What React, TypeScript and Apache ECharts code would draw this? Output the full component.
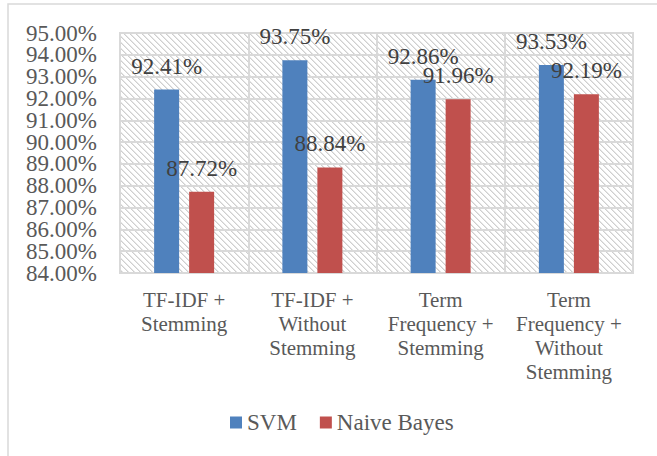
import React, { useEffect, useRef } from "react";
import * as echarts from "echarts";

const categories = [
  "TF-IDF +\nStemming",
  "TF-IDF +\nWithout\nStemming",
  "Term\nFrequency +\nStemming",
  "Term\nFrequency +\nWithout\nStemming",
];
const svmValues = [92.41, 93.75, 92.86, 93.53];
const nbValues = [87.72, 88.84, 91.96, 92.19];
const seriesNames = ["SVM", "Naive Bayes"];
const yMin = 84;
const yMax = 95;
const yTickLabels = [
  "84.00%",
  "85.00%",
  "86.00%",
  "87.00%",
  "88.00%",
  "89.00%",
  "90.00%",
  "91.00%",
  "92.00%",
  "93.00%",
  "94.00%",
  "95.00%",
];

const FONT = "Liberation Serif";

function makeHatch(): string {
  const c = document.createElement("canvas");
  const n = 6;
  c.width = n;
  c.height = n;
  const ctx = c.getContext("2d")!;
  ctx.fillStyle = "#ffffff";
  ctx.fillRect(0, 0, n, n);
  for (let i = 0; i < n; i++) {
    ctx.fillStyle = "#cfcfcf";
    ctx.fillRect(i, i, 1, 1);
    ctx.fillStyle = "#e6e6e6";
    ctx.fillRect((i + 1) % n, i, 1, 1);
  }
  return c.toDataURL();
}

export default function App() {
  const ref = useRef<HTMLDivElement>(null);
  useEffect(() => {
    if (!ref.current) return;
    const chart = echarts.init(ref.current, null, { renderer: "svg" });
    const hatch = makeHatch();
    const labelStyle = {
      show: true,
      position: "top" as const,
      distance: 12,
      color: "#404040",
      fontFamily: FONT,
      fontSize: 23,
      formatter: (p: any) => Number(p.value).toFixed(2) + "%",
    };
    chart.setOption({
      animation: false,
      backgroundColor: "#ffffff",
      textStyle: { fontFamily: FONT },
      graphic: [
        {
          type: "rect",
          shape: { x: 8, y: 4, width: 700, height: 500 },
          style: { fill: "none", stroke: "#d9d9d9", lineWidth: 1.5 },
          silent: true,
          z: -10,
        },
      ],
      grid: {
        left: 120,
        right: 24,
        top: 33,
        bottom: 183,
        show: true,
        borderColor: "#d9d9d9",
        borderWidth: 2,
        backgroundColor: {
          image: hatch,
          repeat: "repeat",
          imageWidth: 6,
          imageHeight: 6,
        } as any,
      },
      legend: {
        data: seriesNames,
        left: 225,
        top: 406,
        itemWidth: 12,
        itemHeight: 12,
        itemGap: 23,
        icon: "rect",
        textStyle: { color: "#595959", fontFamily: FONT, fontSize: 23 },
      },
      xAxis: {
        type: "category",
        data: categories,
        axisLine: { show: true, lineStyle: { color: "#d9d9d9", width: 2 } },
        axisTick: { show: false },
        splitLine: { show: true, lineStyle: { color: "#d9d9d9", width: 2 } },
        axisLabel: {
          color: "#595959",
          fontFamily: FONT,
          fontSize: 21,
          lineHeight: 24,
          margin: 15,
          interval: 0,
        },
      },
      yAxis: [
        {
          type: "value",
          min: yMin,
          max: yMax,
          interval: 1,
          axisLine: { show: false },
          axisTick: { show: false },
          splitLine: { show: true, lineStyle: { color: "#d9d9d9", width: 2 } },
          axisLabel: { show: false },
        },
        {
          type: "category",
          position: "left",
          data: yTickLabels,
          boundaryGap: false,
          axisLine: { show: false },
          axisTick: { show: false },
          splitLine: { show: false },
          axisLabel: {
            interval: 0,
            margin: 23,
            color: "#595959",
            fontFamily: FONT,
            fontSize: 23,
          },
        },
      ],
      series: [
        {
          name: seriesNames[0],
          type: "bar",
          data: svmValues,
          yAxisIndex: 0,
          barWidth: 25,
          barGap: "40%",
          itemStyle: { color: "#4f81bd" },
          label: labelStyle,
        },
        {
          name: seriesNames[1],
          type: "bar",
          data: nbValues,
          yAxisIndex: 0,
          barWidth: 25,
          barGap: "40%",
          itemStyle: { color: "#c0504d" },
          label: labelStyle,
        },
      ],
    });
    return () => chart.dispose();
  }, []);
  return (
    <div
      ref={ref}
      style={{ position: "absolute", left: 0, top: 0, width: 657, height: 456 }}
    />
  );
}
